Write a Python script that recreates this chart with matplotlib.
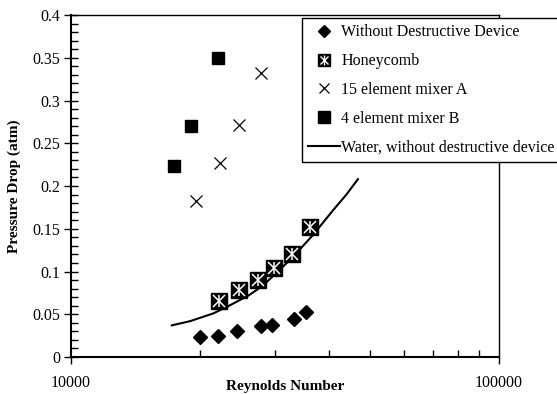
import numpy as np
import matplotlib.pyplot as plt
from matplotlib.lines import Line2D
from matplotlib.legend_handler import HandlerTuple
from matplotlib.ticker import FixedLocator, MultipleLocator, NullFormatter

plt.rcParams['font.family'] = ['Liberation Serif', 'DejaVu Serif']

# pressure drop (atm) against Reynolds number
re_plain = [19970, 22090, 24470, 27750, 29440, 33140, 35400]
dp_plain = [0.023, 0.025, 0.030, 0.036, 0.038, 0.044, 0.053]

re_honey = [22140, 24650, 27310, 29760, 32850, 36120]
dp_honey = [0.066, 0.078, 0.090, 0.104, 0.120, 0.152]

re_mix_a = [19560, 22290, 24650, 27840]
dp_mix_a = [0.183, 0.227, 0.271, 0.332]

re_mix_b = [17430, 19070, 22020]
dp_mix_b = [0.223, 0.270, 0.350]

re_water = [17200, 19000, 21500, 23000, 26000, 28000, 30000, 33000, 36800, 41000, 44000, 46800]
dp_water = [0.037, 0.042, 0.051, 0.058, 0.072, 0.083, 0.097, 0.117, 0.143, 0.172, 0.190, 0.208]

y_ticks = np.arange(0, 0.401, 0.05)
y_ticklabels = ['0', '0.05', '0.1', '0.15', '0.2', '0.25', '0.3', '0.35', '0.4']

fig = plt.figure(figsize=(5.57, 3.94), dpi=100)
ax = fig.add_axes([0.1275, 0.0939, 0.7684, 0.868])

ax.plot(re_water, dp_water, color='black', lw=1.5, zorder=2)
ax.plot(re_plain, dp_plain, ls='none', marker='D', ms=7, color='black', zorder=3)
# honeycomb: black square with a white asterisk on top
ax.plot(re_honey, dp_honey, ls='none', marker='s', ms=11, color='black', zorder=3)
ax.plot(re_honey, dp_honey, ls='none', marker='x', ms=8, mew=1.1, color='white', zorder=4)
ax.plot(re_honey, dp_honey, ls='none', marker='|', ms=9, mew=1.1, color='white', zorder=4)
ax.plot(re_mix_a, dp_mix_a, ls='none', marker='x', ms=8, mew=0.9, color='black', zorder=3)
ax.plot(re_mix_b, dp_mix_b, ls='none', marker='s', ms=8, color='black', zorder=3)

ax.set_xscale('log')
ax.set_xlim(10000, 100000)
ax.set_ylim(0, 0.4)

ax.xaxis.set_major_locator(FixedLocator([10000, 100000]))
ax.xaxis.set_minor_locator(FixedLocator([k * 10000 for k in range(2, 10)]))
ax.xaxis.set_minor_formatter(NullFormatter())
ax.set_xticklabels(['10000', '100000'])
ax.set_yticks(y_ticks)
ax.set_yticklabels(y_ticklabels)
ax.yaxis.set_minor_locator(MultipleLocator(0.01))

ax.tick_params(axis='x', which='major', direction='out', length=5, width=1, pad=8, labelsize=11.5)
ax.tick_params(axis='x', which='minor', direction='in', length=5, width=1)
ax.tick_params(axis='y', which='major', direction='inout', length=10, width=1, pad=3, labelsize=11.5)
ax.tick_params(axis='y', which='minor', direction='in', length=5, width=1)
for s in ax.spines.values():
    s.set_linewidth(1)
ax.spines['left'].set_linewidth(1.5)
ax.spines['bottom'].set_linewidth(1.5)

ax.set_xlabel('Reynolds Number', fontsize=11, fontweight='bold')
ax.xaxis.set_label_coords(0.5, -0.068)
ax.set_ylabel('Pressure Drop (atm)', fontsize=11, fontweight='bold', labelpad=8)

h_plain = Line2D([], [], ls='none', marker='D', ms=6, color='black')
h_honey = (Line2D([], [], ls='none', marker='s', ms=9, color='black'),
           Line2D([], [], ls='none', marker='x', ms=6, mew=1, color='white'),
           Line2D([], [], ls='none', marker='|', ms=7, mew=1, color='white'))
h_mix_a = Line2D([], [], ls='none', marker='x', ms=7, mew=0.9, color='black')
h_mix_b = Line2D([], [], ls='none', marker='s', ms=8, color='black')
h_water = Line2D([], [], color='black', lw=1.5)

leg = fig.legend([h_plain, h_honey, h_mix_a, h_mix_b, h_water],
                 ['Without Destructive Device', 'Honeycomb', '15 element mixer A',
                  '4 element mixer B', 'Water, without destructive device'],
                 handler_map={tuple: HandlerTuple(ndivide=1, pad=0)},
                 loc='upper left', bbox_to_anchor=(302 / 557, 1 - 18 / 394),
                 borderaxespad=0, fancybox=False, framealpha=1, edgecolor='black',
                 fontsize=11.5, handlelength=1.95, handletextpad=0.1,
                 labelspacing=0.8, borderpad=0.4)
leg.get_frame().set_linewidth(1)

fig.savefig('out.png', dpi=100)
